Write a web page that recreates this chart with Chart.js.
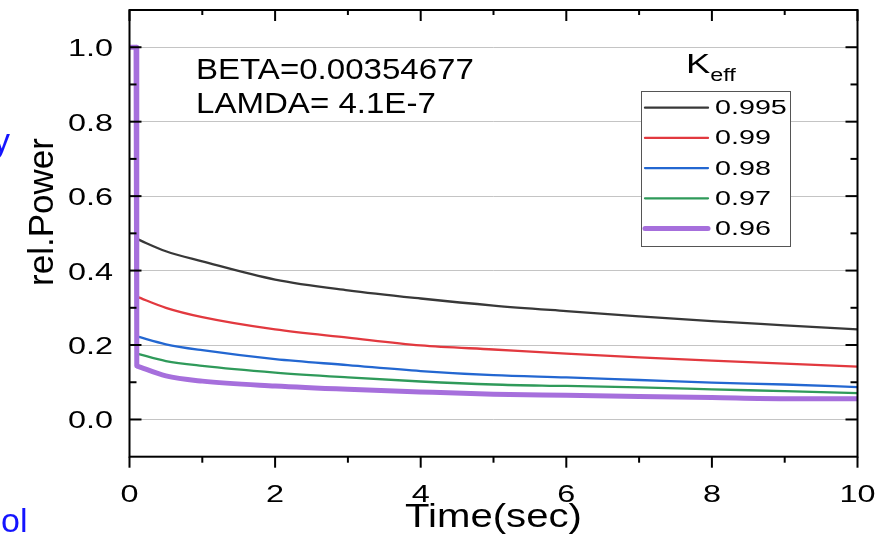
<!DOCTYPE html>
<html>
<head>
<meta charset="utf-8">
<title>rel.Power vs Time</title>
<script src="https://cdn.jsdelivr.net/npm/chart.js"></script>
<style>
    body { margin: 0; background: #fff; }
    #wrap { position: relative; width: 877px; height: 542px; }
</style>
</head>
<body>
<div id="wrap"><canvas id="powerChart" width="877" height="542"></canvas></div>
<script>
// values
const keff = ['0.995', '0.99', '0.98', '0.97', '0.96'];
const spikeTime = [0, 0.09];
const spikePower = [1.0, 1.0];
const timeSec = [0.1, 0.5, 1, 2, 3, 4, 5, 6, 7, 8, 9, 10];
const power0995 = [0.485, 0.452, 0.425, 0.376, 0.347, 0.325, 0.306, 0.291, 0.277, 0.264, 0.253, 0.242];
const power099 = [0.330, 0.300, 0.275, 0.242, 0.220, 0.199, 0.188, 0.177, 0.167, 0.158, 0.150, 0.142];
const power098 = [0.223, 0.202, 0.186, 0.162, 0.146, 0.130, 0.119, 0.113, 0.106, 0.099, 0.094, 0.087];
const power097 = [0.177, 0.157, 0.144, 0.126, 0.113, 0.102, 0.094, 0.090, 0.086, 0.081, 0.076, 0.071];
const power096 = [0.144, 0.117, 0.103, 0.090, 0.081, 0.074, 0.068, 0.065, 0.062, 0.059, 0.056, 0.056];
const yTicks = [0, 0.2, 0.4, 0.6, 0.8, 1.0];
const yMinor = [0.1, 0.3, 0.5, 0.7, 0.9];
const xTicks = [0, 2, 4, 6, 8, 10];
const xMinor = [1, 3, 5, 7, 9];
const notes = ['BETA=0.00354677', 'LAMDA= 4.1E-7'];

const allPower = [power0995, power099, power098, power097, power096];
const colors = ['#383838', '#e2393f', '#2367d1', '#2f9a5a', '#a66fdc'];
const widths = [2.3, 2.3, 2.3, 2.3, 5];
const FONT = '"Liberation Sans", Arial, sans-serif';

const datasets = allPower.map((vals, i) => ({
    label: keff[i],
    data: timeSec.map((t, j) => ({ x: t, y: vals[j] })),
    borderColor: colors[i],
    borderWidth: widths[i],
    pointRadius: 0,
    fill: false,
    cubicInterpolationMode: 'monotone',
    order: allPower.length - i + 1
}));

// the drop at t=0.1 (only the thick 0.96 trace shows, it covers the others)
const last = allPower.length - 1;
datasets.push({
    label: 'drop',
    data: spikeTime.map((t, j) => ({ x: t, y: spikePower[j] }))
        .concat([{ x: timeSec[0], y: power096[0] }]),
    borderColor: colors[last],
    borderWidth: widths[last],
    pointRadius: 0,
    fill: false,
    tension: 0,
    borderJoinStyle: 'round',
    order: 0
});

// text drawn a bit wider, like the original
function wideText(ctx, text, x, y, sx, align) {
    ctx.save();
    ctx.translate(x, y);
    ctx.scale(sx, 1);
    ctx.textAlign = align || 'left';
    ctx.textBaseline = 'alphabetic';
    ctx.fillText(text, 0, 0);
    ctx.restore();
}

const framePlugin = {
    id: 'frame',
    afterDatasetsDraw(chart) {
        const ctx = chart.ctx;
        const { left, right, top, bottom } = chart.chartArea;
        const xs = chart.scales.x, ys = chart.scales.y;
        ctx.save();
        ctx.strokeStyle = '#000';
        ctx.lineWidth = 2;
        ctx.strokeRect(left, top, right - left, bottom - top);
        const line = (x1, y1, x2, y2) => {
            ctx.beginPath();
            ctx.moveTo(x1, y1);
            ctx.lineTo(x2, y2);
            ctx.stroke();
        };
        yTicks.forEach(v => {
            const p = ys.getPixelForValue(v);
            line(left, p, left + 12, p);
            line(right, p, right - 12, p);
        });
        yMinor.forEach(v => {
            const p = ys.getPixelForValue(v);
            line(left, p, left + 7, p);
            line(right, p, right - 7, p);
        });
        xTicks.forEach(v => {
            const p = xs.getPixelForValue(v);
            line(p, bottom, p, bottom + 11);
            line(p, top, p, top + 11);
        });
        xMinor.forEach(v => {
            const p = xs.getPixelForValue(v);
            line(p, bottom, p, bottom + 6);
            line(p, top, p, top + 5);
        });
        ctx.restore();
    },
    afterDraw(chart) {
        const ctx = chart.ctx;
        const { left, right } = chart.chartArea;
        const xs = chart.scales.x, ys = chart.scales.y;
        ctx.save();
        ctx.fillStyle = '#000';

        ctx.font = '24px ' + FONT;
        yTicks.forEach(v => wideText(ctx, v.toFixed(1), 113, ys.getPixelForValue(v) + 9, 1.35, 'right'));
        xTicks.forEach(v => wideText(ctx, String(v), xs.getPixelForValue(v), 502, 1.35, 'center'));

        ctx.font = '34px ' + FONT;
        wideText(ctx, 'Time(sec)', (left + right) / 2, 527, 1.18, 'center');

        ctx.save();
        ctx.translate(53, 212);
        ctx.rotate(-Math.PI / 2);
        ctx.font = '35px ' + FONT;
        ctx.textAlign = 'center';
        ctx.fillText('rel.Power', 0, 0);
        ctx.restore();

        ctx.font = '29px ' + FONT;
        wideText(ctx, notes[0], 196, 79, 1.14);
        wideText(ctx, notes[1], 196, 113, 1.14);

        // legend
        ctx.fillStyle = '#fff';
        ctx.fillRect(641, 91, 149, 155);
        ctx.strokeStyle = '#555';
        ctx.lineWidth = 1;
        ctx.strokeRect(641.5, 91.5, 149, 155);
        ctx.fillStyle = '#000';
        ctx.font = '28px ' + FONT;
        wideText(ctx, 'K', 686, 73, 1.3);
        const kw = ctx.measureText('K').width * 1.3;
        ctx.font = '18px ' + FONT;
        wideText(ctx, 'eff', 686 + kw, 81, 1.3);

        chart.data.datasets.slice(0, keff.length).forEach((ds, i) => {
            const ry = 107.7 + i * 30.2;
            ctx.strokeStyle = ds.borderColor;
            ctx.lineWidth = ds.borderWidth;
            ctx.lineCap = 'round';
            ctx.beginPath();
            ctx.moveTo(645, ry);
            ctx.lineTo(708, ry);
            ctx.stroke();
            ctx.fillStyle = '#000';
            ctx.font = '20.5px ' + FONT;
            wideText(ctx, ds.label, 715, ry + 6.5, 1.4);
        });

        // bits of slide text cut off at the left edge
        ctx.fillStyle = '#1414ff';
        ctx.font = '34px ' + FONT;
        ctx.textAlign = 'left';
        ctx.fillText('y', -7, 152);
        ctx.fillText('ol', 1, 532);
        ctx.restore();
    }
};

new Chart(document.getElementById('powerChart'), {
    type: 'line',
    data: { datasets },
    options: {
        responsive: false,
        animation: false,
        devicePixelRatio: 1,
        layout: { padding: { top: 10, right: 19.5, left: 0, bottom: 0 } },
        plugins: { legend: { display: false }, tooltip: { enabled: false } },
        scales: {
            x: {
                type: 'linear', min: 0, max: 10,
                grid: { display: false, drawTicks: false },
                border: { display: false },
                ticks: { display: false },
                afterFit: s => { s.height = 85.3; }
            },
            y: {
                type: 'linear', min: -0.1, max: 1.1,
                grid: { color: '#c4c4c4', lineWidth: 1, drawTicks: false },
                border: { display: false },
                ticks: { display: false },
                afterBuildTicks: s => { s.ticks = yTicks.map(v => ({ value: v })); },
                afterFit: s => { s.width = 129.5; }
            }
        }
    },
    plugins: [framePlugin]
});
</script>
</body>
</html>
